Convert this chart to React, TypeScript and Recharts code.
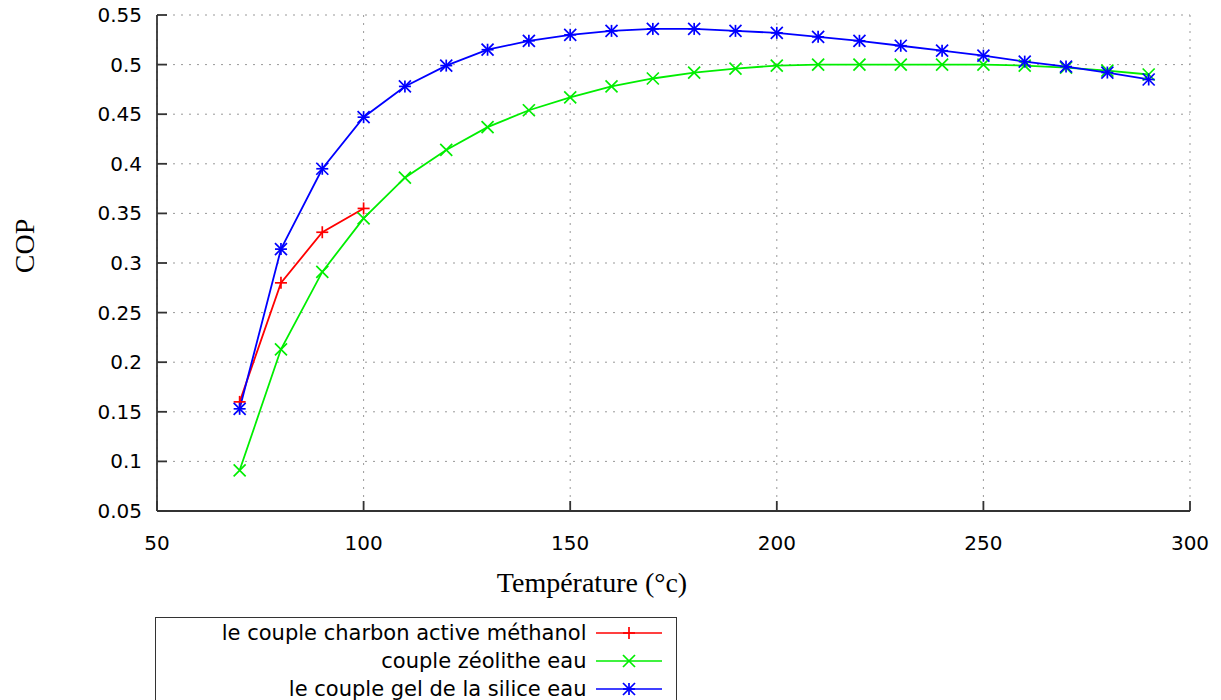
import { LineChart, Line, XAxis, YAxis, CartesianGrid, Label } from 'recharts'

// Température (°c) sampled every 10 degrees
const TEMPERATURES = [70, 80, 90, 100, 110, 120, 130, 140, 150, 160, 170, 180, 190, 200, 210, 220, 230, 240, 250, 260, 270, 280, 290]

// COP per couple (charbon actif only measured up to 100 °c)
const CHARBON_METHANOL = [0.16, 0.28, 0.331, 0.355]
const ZEOLITHE_EAU = [0.091, 0.213, 0.291, 0.345, 0.386, 0.414, 0.437, 0.454, 0.467, 0.478, 0.486, 0.492, 0.496, 0.499, 0.5, 0.5, 0.5, 0.5, 0.5, 0.499, 0.497, 0.494, 0.49]
const SILICE_EAU = [0.153, 0.314, 0.395, 0.447, 0.478, 0.499, 0.515, 0.524, 0.53, 0.534, 0.536, 0.536, 0.534, 0.532, 0.528, 0.524, 0.519, 0.514, 0.509, 0.503, 0.498, 0.492, 0.485]

const X_TICKS = [50, 100, 150, 200, 250, 300]
const Y_TICKS = [0.05, 0.1, 0.15, 0.2, 0.25, 0.3, 0.35, 0.4, 0.45, 0.5, 0.55]

const SERIES = [
  { key: 'charbon', name: 'le couple charbon active méthanol', color: '#ff0000', marker: 'plus' },
  { key: 'zeolithe', name: 'couple zéolithe eau', color: '#00ee00', marker: 'cross' },
  { key: 'silice', name: 'le couple gel de la silice eau', color: '#0000ff', marker: 'star' },
]

const data = TEMPERATURES.map((t, i) => ({
  t,
  charbon: i < CHARBON_METHANOL.length ? CHARBON_METHANOL[i] : null,
  zeolithe: ZEOLITHE_EAU[i],
  silice: SILICE_EAU[i],
}))

const TICK_FONT = '"DejaVu Sans", Verdana, sans-serif'
const TITLE_FONT = '"Liberation Serif", "Times New Roman", serif'
const FRAME = '#333'

function Marker({ x, y, kind, color, r = 6 }: { x: number; y: number; kind: string; color: string; r?: number }) {
  const plus = (
    <>
      <line x1={x - r} x2={x + r} y1={y} y2={y} />
      <line x1={x} x2={x} y1={y - r} y2={y + r} />
    </>
  )
  const cross = (
    <>
      <line x1={x - r} x2={x + r} y1={y - r} y2={y + r} />
      <line x1={x - r} x2={x + r} y1={y + r} y2={y - r} />
    </>
  )
  return (
    <g stroke={color} strokeWidth={1.7} fill="none">
      {kind !== 'cross' && plus}
      {kind !== 'plus' && cross}
    </g>
  )
}

const makeDot = (kind: string, color: string) => (props: any) => {
  const { cx, cy, index, value } = props
  if (value == null || cy == null || Number.isNaN(cy)) return <g key={index} />
  return <Marker key={index} x={cx} y={cy} kind={kind} color={color} />
}

const XTick = ({ x, y, payload }: any) => (
  <g>
    <line x1={x} x2={x} y1={y} y2={y - 10} stroke={FRAME} strokeWidth={1.8} />
    <text x={x} y={y + 39} textAnchor="middle" fontFamily={TICK_FONT} fontSize={20} fill="#000">
      {payload.value}
    </text>
  </g>
)

const YTick = ({ x, y, payload }: any) => (
  <g>
    <line x1={x} x2={x + 10} y1={y} y2={y} stroke={FRAME} strokeWidth={1.8} />
    <text x={x - 15} y={y + 7} textAnchor="end" fontFamily={TICK_FONT} fontSize={20} fill="#000">
      {payload.value}
    </text>
  </g>
)

function ChartLegend() {
  return (
    <div
      style={{
        position: 'absolute',
        left: 155,
        top: 617,
        width: 522,
        height: 110,
        border: `1.8px solid ${FRAME}`,
        boxSizing: 'border-box',
        background: '#fff',
        paddingTop: 1,
      }}
    >
      {SERIES.map((s) => (
        <div key={s.key} style={{ display: 'flex', alignItems: 'center', height: 28 }}>
          <div
            style={{
              width: 433,
              textAlign: 'right',
              fontFamily: TICK_FONT,
              fontSize: 21,
              color: '#000',
              whiteSpace: 'nowrap',
            }}
          >
            {s.name}
          </div>
          <svg width={80} height={20} style={{ marginLeft: 10 }}>
            <line x1={0} x2={66} y1={10} y2={10} stroke={s.color} strokeWidth={1.7} />
            <Marker x={33} y={10} kind={s.marker} color={s.color} />
          </svg>
        </div>
      ))}
    </div>
  )
}

export default function App() {
  return (
    <div style={{ position: 'absolute', left: 0, top: 0, width: 1221, height: 700, background: '#fff', overflow: 'hidden' }}>
      <LineChart width={1221} height={700} data={data} margin={{ top: 15, right: 31, bottom: 0, left: 0 }}>
        <CartesianGrid stroke="#999" strokeDasharray="2 6" strokeWidth={1} verticalValues={X_TICKS} horizontalValues={Y_TICKS} />
        <XAxis
          dataKey="t"
          type="number"
          domain={[50, 300]}
          ticks={X_TICKS}
          height={189}
          tickSize={0}
          tickMargin={0}
          tick={<XTick />}
          axisLine={{ stroke: FRAME, strokeWidth: 1.8 }}
          tickLine={false}
          allowDataOverflow
        >
          <Label
            content={() => (
              <text x={592} y={592} textAnchor="middle" fontFamily={TITLE_FONT} fontSize={28} fill="#000">
                Température (°c)
              </text>
            )}
          />
        </XAxis>
        <XAxis
          xAxisId="top"
          orientation="top"
          dataKey="t"
          type="number"
          domain={[50, 300]}
          ticks={X_TICKS}
          height={0}
          mirror
          tick={false}
          tickSize={10}
          axisLine={{ stroke: FRAME, strokeWidth: 1.8 }}
          tickLine={{ stroke: FRAME, strokeWidth: 1.8 }}
        />
        <YAxis
          type="number"
          domain={[0.05, 0.55]}
          ticks={Y_TICKS}
          width={157}
          tickSize={0}
          tickMargin={0}
          tick={<YTick />}
          axisLine={{ stroke: FRAME, strokeWidth: 1.8 }}
          tickLine={false}
          allowDataOverflow
        >
          <Label
            content={() => (
              <text
                x={24}
                y={246}
                transform="rotate(-90 24 246)"
                textAnchor="middle"
                dominantBaseline="central"
                fontFamily={TITLE_FONT}
                fontSize={28}
                fill="#000"
              >
                COP
              </text>
            )}
          />
        </YAxis>
        <YAxis
          yAxisId="right"
          orientation="right"
          type="number"
          domain={[0.05, 0.55]}
          ticks={Y_TICKS}
          width={0}
          mirror
          tick={false}
          tickSize={10}
          axisLine={{ stroke: FRAME, strokeWidth: 1.8 }}
          tickLine={{ stroke: FRAME, strokeWidth: 1.8 }}
        />
        {SERIES.map((s) => (
          <Line
            key={s.key}
            dataKey={s.key}
            name={s.name}
            type="linear"
            stroke={s.color}
            strokeWidth={1.8}
            dot={makeDot(s.marker, s.color)}
            activeDot={false}
            connectNulls={false}
            isAnimationActive={false}
          />
        ))}
      </LineChart>
      <ChartLegend />
    </div>
  )
}
